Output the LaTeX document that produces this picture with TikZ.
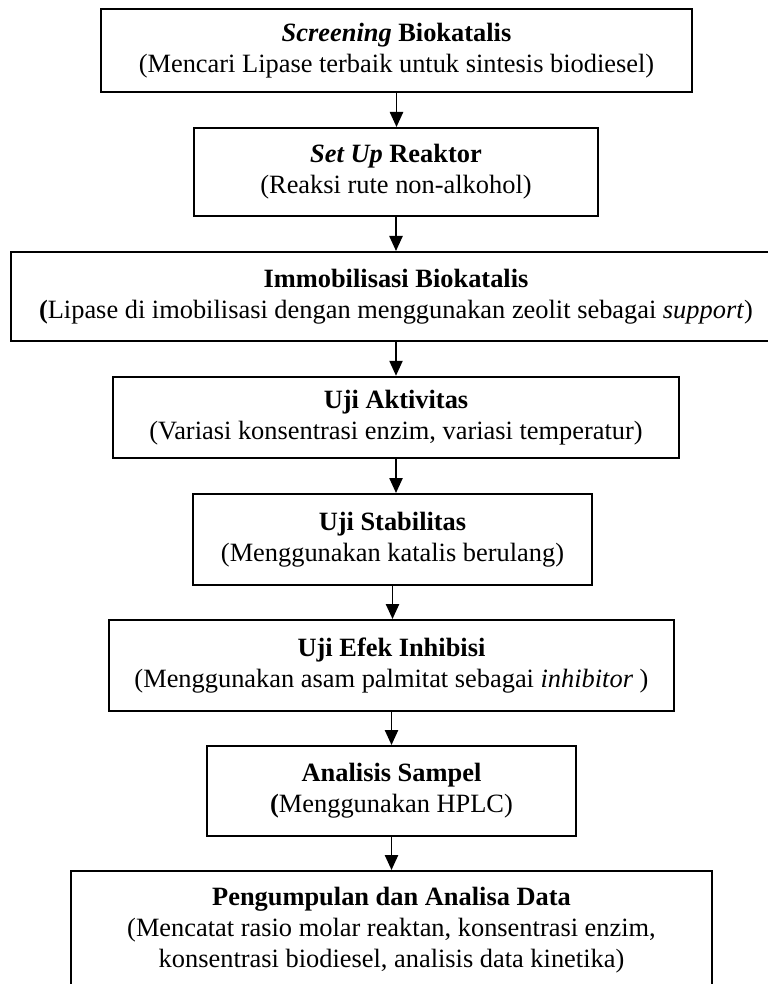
\documentclass[tikz,border=0pt]{standalone}
\usepackage{fontspec}
\setmainfont{Liberation Serif}
\usetikzlibrary{arrows.meta,positioning}
\tikzset{
box/.style={
  draw, line width=1pt,
  align=center,
  inner sep=0pt,
  font=\fontsize{13.2}{15.5}\selectfont
},
arr/.style={-{Triangle[length=7.5pt,width=6.6pt]}, line width=0.9pt},
}

\begin{document}
\begin{tikzpicture}[x=0.5pt,y=-0.5pt]
        \useasboundingbox (0,0) rectangle (767,984);

        \node[box, minimum width=295.5pt, minimum height=41.5pt] (screening) at (396.5,50.5)
            {\textbf{\textit{Screening} Biokatalis}\\(Mencari Lipase terbaik untuk sintesis biodiesel)};
        \node[box, minimum width=202pt, minimum height=44pt] (setup) at (396,172)
            {\textbf{\textit{Set Up} Reaktor}\\(Reaksi rute non-alkohol)};
        \node[box, minimum width=385pt, minimum height=44.5pt] (immob) at (396,296.5)
            {\textbf{Immobilisasi Biokatalis}\\\textbf{(}Lipase di imobilisasi dengan menggunakan zeolit sebagai \textit{support})};
        \node[box, minimum width=283pt, minimum height=40.75pt] (aktivitas) at (396,417.5)
            {\textbf{Uji Aktivitas}\\(Variasi konsentrasi enzim, variasi temperatur)};
        \node[box, minimum width=199.5pt, minimum height=45.5pt] (stabilitas) at (392.5,539.5)
            {\textbf{Uji Stabilitas}\\(Menggunakan katalis berulang)};
        \node[box, minimum width=282.5pt, minimum height=45.5pt] (inhibisi) at (391.5,665.5)
            {\textbf{Uji Efek Inhibisi}\\(Menggunakan asam palmitat sebagai \textit{inhibitor} )};
        \node[box, minimum width=184.5pt, minimum height=45pt] (sampel) at (391.5,791)
            {\textbf{Analisis Sampel}\\\textbf{(}Menggunakan HPLC)};
        \node[box, minimum width=320.5pt, minimum height=59.5pt] (data) at (391.5,930.5)
            {\textbf{Pengumpulan dan Analisa Data}\\(Mencatat rasio molar reaktan, konsentrasi enzim,\\konsentrasi biodiesel, analisis data kinetika)};

        % alur
        \draw[arr] (screening.south) -- (screening.south |- setup.north);
        \draw[arr] (setup.south) -- (setup.south |- immob.north);
        \draw[arr] (immob.south) -- (immob.south |- aktivitas.north);
        \draw[arr] (aktivitas.south) -- (aktivitas.south |- stabilitas.north);
        \draw[arr] (stabilitas.south) -- (stabilitas.south |- inhibisi.north);
        \draw[arr] (inhibisi.south) -- (inhibisi.south |- sampel.north);
        \draw[arr] (sampel.south) -- (sampel.south |- data.north);
\end{tikzpicture}
\end{document}
